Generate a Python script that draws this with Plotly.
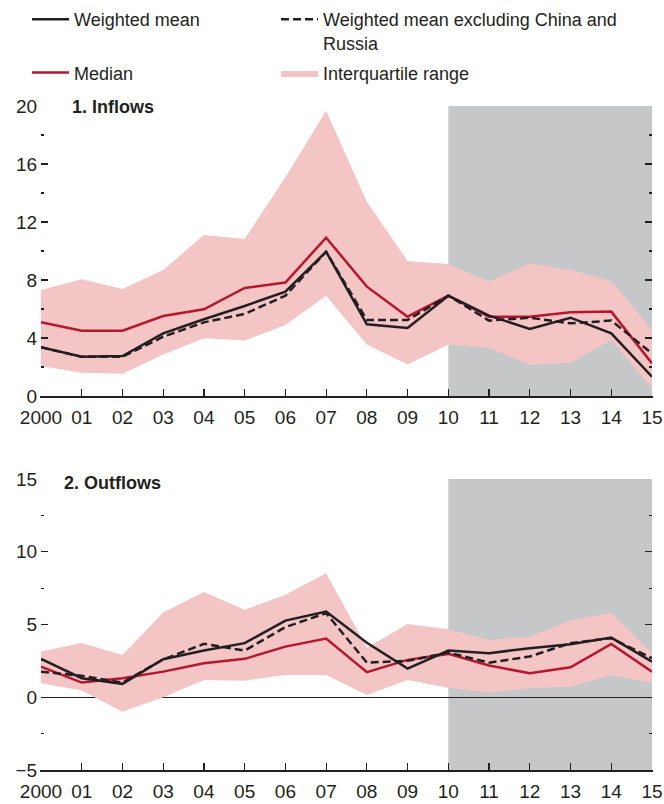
import plotly.graph_objects as go
from plotly.subplots import make_subplots

years = list(range(2000, 2016))
xlabels = ["2000", "01", "02", "03", "04", "05", "06", "07", "08", "09",
           "10", "11", "12", "13", "14", "15"]

# Panel 1: Inflows
in_wmean = [3.36, 2.71, 2.76, 4.32, 5.29, 6.21, 7.20, 9.95, 4.94, 4.69, 6.92, 5.54, 4.62, 5.40, 4.32, 1.33]
in_wmean_ex = [3.36, 2.70, 2.70, 4.09, 5.08, 5.66, 6.92, 9.95, 5.24, 5.24, 6.92, 5.20, 5.40, 5.01, 5.20, 2.94]
in_median = [5.08, 4.50, 4.50, 5.52, 5.98, 7.45, 7.82, 10.92, 7.54, 5.47, 6.92, 5.47, 5.47, 5.77, 5.82, 2.25]
in_q1 = [2.07, 1.61, 1.54, 2.87, 3.98, 3.82, 4.90, 6.92, 3.56, 2.18, 3.56, 3.33, 2.14, 2.30, 3.86, 0.53]
in_q3 = [7.31, 8.05, 7.38, 8.69, 11.10, 10.83, 15.08, 19.68, 13.40, 9.31, 9.10, 7.89, 9.15, 8.69, 7.95, 4.55]

# Panel 2: Outflows
out_wmean = [2.64, 1.31, 0.92, 2.61, 3.21, 3.72, 5.27, 5.89, 3.75, 1.97, 3.21, 3.03, 3.37, 3.65, 4.10, 2.45]
out_wmean_ex = [1.76, 1.47, 1.00, 2.60, 3.67, 3.21, 4.82, 5.78, 2.38, 2.50, 3.07, 2.38, 2.80, 3.72, 4.06, 2.68]
out_median = [2.11, 1.01, 1.31, 1.76, 2.34, 2.64, 3.48, 4.03, 1.72, 2.57, 2.98, 2.18, 1.65, 2.06, 3.67, 1.76]
out_q1 = [0.96, 0.46, -0.99, 0.00, 1.19, 1.14, 1.53, 1.53, 0.16, 1.19, 0.66, 0.32, 0.62, 0.73, 1.53, 1.00]
out_q3 = [3.14, 3.72, 2.91, 5.82, 7.23, 6.01, 7.04, 8.53, 3.40, 5.04, 4.68, 3.94, 4.17, 5.27, 5.82, 3.03]

shade_start, shade_end = 2010, 2015
panel_titles = ["1. Inflows", "2. Outflows"]

FONT = "Liberation Sans, Arial, sans-serif"
TXT = "#231f20"
BLACK = "#231f20"
RED = "#b5172f"
PINK = "#f4c5c5"
GRAY = "#c6c7c9"

W, H = 664, 804
ml, mr, mt, mb = 41, 12, 106, 34
pw = W - ml - mr
ph = H - mt - mb
top_dom = [(770 - 396) / ph, 1.0]
bot_dom = [0.0, (770 - 479) / ph]

fig = make_subplots(rows=2, cols=1)

panels = [
    (1, in_wmean, in_wmean_ex, in_median, in_q1, in_q3),
    (2, out_wmean, out_wmean_ex, out_median, out_q1, out_q3),
]
for row, wm, wmx, med, q1, q3 in panels:
    show = row == 1
    fig.add_trace(go.Scatter(x=years, y=q1, mode="lines", line=dict(width=0, color=PINK),
                             showlegend=False, hoverinfo="skip", legendgroup="iqr",
                             legend="legend2"), row=row, col=1)
    fig.add_trace(go.Scatter(x=years, y=q3, mode="lines", line=dict(width=0, color=PINK),
                             fill="tonexty", fillcolor=PINK, name="Interquartile range",
                             showlegend=show, legendgroup="iqr", legendrank=4,
                             legend="legend2"), row=row, col=1)
    fig.add_trace(go.Scatter(x=years, y=med, mode="lines", line=dict(width=2.5, color=RED),
                             name="Median", showlegend=show, legendgroup="med", legendrank=3,
                             legend="legend"), row=row, col=1)
    fig.add_trace(go.Scatter(x=years, y=wmx, mode="lines",
                             line=dict(width=2.5, color=BLACK, dash="8px,4px"),
                             name="Weighted mean excluding China and<br>Russia",
                             showlegend=show, legendgroup="wmx", legendrank=2,
                             legend="legend2"), row=row, col=1)
    fig.add_trace(go.Scatter(x=years, y=wm, mode="lines", line=dict(width=2.5, color=BLACK),
                             name="Weighted mean", showlegend=show, legendgroup="wm", legendrank=1,
                             legend="legend"), row=row, col=1)

for yax, xax in [("y", "x"), ("y2", "x2")]:
    fig.add_shape(type="rect", xref=xax, yref=yax + " domain", x0=shade_start, x1=shade_end,
                  y0=0, y1=1, fillcolor=GRAY, line=dict(width=0), layer="below")

fig.update_xaxes(
    range=[2000, 2015], tickvals=years, ticktext=xlabels, ticks="inside", ticklen=7,
    tickcolor=BLACK, tickwidth=1.2, showline=True, linecolor=BLACK, linewidth=1.5,
    showgrid=False, zeroline=False, tickfont=dict(family=FONT, size=19, color=TXT),
    ticklabelstandoff=4, fixedrange=True,
)

fig.update_yaxes(
    range=[0, 20], tickvals=[0, 4, 8, 12, 16, 20], ticks="inside", ticklen=7,
    tickcolor=BLACK, tickwidth=1.2, mirror="ticks", showline=True,
    linecolor="rgba(0,0,0,0)", showgrid=False, zeroline=False, fixedrange=True,
    minor=dict(tickvals=[2, 6, 10, 14, 18], ticks="inside", ticklen=3, tickcolor=BLACK, tickwidth=1.2),
    tickfont=dict(family=FONT, size=19, color=TXT), ticklabelstandoff=-1,
    row=1, col=1,
)
fig.update_yaxes(
    range=[-5, 15], tickvals=[-5, 0, 5, 10, 15], ticks="inside", ticklen=7,
    tickcolor=BLACK, tickwidth=1.2, mirror="ticks", showline=True,
    linecolor="rgba(0,0,0,0)", showgrid=False, zeroline=True, zerolinecolor=BLACK,
    zerolinewidth=1, fixedrange=True,
    minor=dict(tickvals=[-2.5, 2.5, 7.5, 12.5], ticks="inside", ticklen=3, tickcolor=BLACK, tickwidth=1.2),
    tickfont=dict(family=FONT, size=19, color=TXT), ticklabelstandoff=-1,
    row=2, col=1,
)

fig.update_layout(
    xaxis=dict(domain=[0, 1], anchor="y"),
    yaxis=dict(domain=top_dom, anchor="x"),
    xaxis2=dict(domain=[0, 1], anchor="y2"),
    yaxis2=dict(domain=bot_dom, anchor="x2"),
)

fig.add_annotation(text="<b>" + panel_titles[0] + "</b>", xref="paper", yref="paper",
                   x=(70 - ml) / pw, y=top_dom[1] - 1 / ph, xanchor="left", yanchor="middle",
                   showarrow=False, font=dict(family=FONT, size=18, color=TXT))
fig.add_annotation(text="<b>" + panel_titles[1] + "</b>", xref="paper", yref="paper",
                   x=(62 - ml) / pw, y=bot_dom[1] - 4 / ph, xanchor="left", yanchor="middle",
                   showarrow=False, font=dict(family=FONT, size=18, color=TXT))

legend_common = dict(
    orientation="v", yanchor="top", valign="top", itemwidth=37,
    font=dict(family=FONT, size=18, color=TXT), bgcolor="rgba(0,0,0,0)",
    traceorder="grouped", itemclick=False, itemdoubleclick=False,
)
fig.update_layout(
    width=W, height=H,
    margin=dict(l=ml, r=mr, t=mt, b=mb, autoexpand=False),
    paper_bgcolor="white", plot_bgcolor="white",
    font=dict(family=FONT, size=19, color=TXT),
    showlegend=True,
    legend=dict(x=(27 - ml) / pw, y=1 + (mt - 1) / ph, tracegroupgap=27, **legend_common),
    legend2=dict(x=(276 - ml) / pw, y=1 + (mt - 1) / ph, tracegroupgap=4, **legend_common),
    hovermode=False,
)

# remove the browser's default 8px body margin so the figure fills the window exactly
fig.write_html("out.html", config={"displayModeBar": False, "staticPlot": True},
               post_script="document.body.style.margin='0px';")
